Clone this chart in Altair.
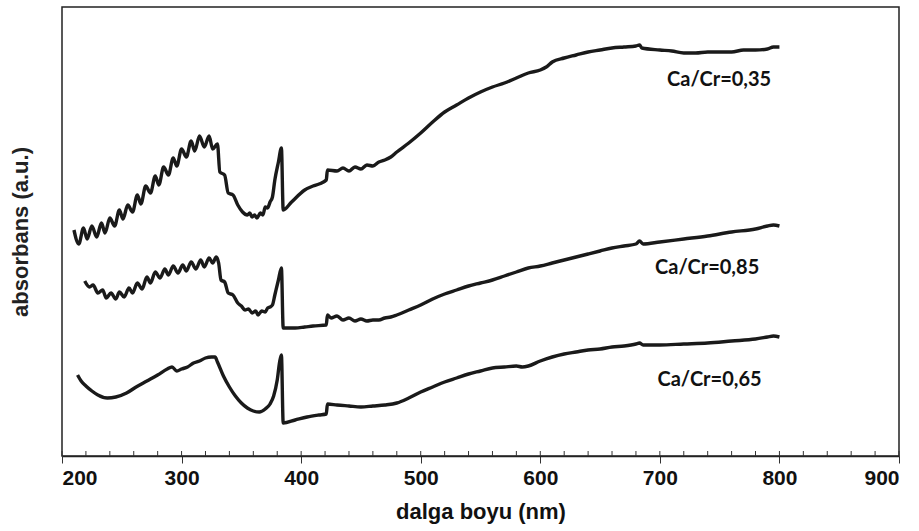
import altair as alt
import pandas as pd

# Ca/Cr = 0,35 (top curve)
x35 = [210, 214, 218, 221, 225, 229, 233, 236, 240, 244, 248, 251, 255, 259, 263, 266, 270, 274, 278, 281,
       285, 289, 293, 296, 300, 304, 308, 311, 315, 319, 323, 326, 330, 332, 336, 339, 343, 347, 351, 355,
       357, 359, 361, 363, 366, 368, 370, 372, 374, 376, 378, 381, 383.5, 385, 392, 403, 410, 415, 421, 422,
       430, 435, 440, 445, 450, 455, 460, 465, 470, 475, 480, 490, 500, 510, 520, 530, 540, 550, 560, 570,
       580, 590, 600, 605, 610, 620, 630, 640, 650, 660, 670, 680, 683, 685, 700, 710, 720, 730, 740, 750,
       760, 770, 780, 790, 795, 800]
y35 = [226, 212, 228, 217, 230, 219, 233, 223, 238, 230, 246, 237, 251, 244, 261, 252, 270, 263, 280, 271,
       289, 281, 298, 290, 307, 299, 315, 305, 320, 309, 320, 307, 312, 284, 281, 263, 261, 251, 244, 241,
       243, 239, 241, 238, 243, 241, 249, 248, 254, 259, 276, 294, 308, 246, 254, 266, 270, 272, 276, 286,
       285, 288, 285, 289, 287, 291, 290, 294, 296, 299, 304, 313, 323, 334, 344, 351, 358, 364, 369, 373,
       378, 383, 386, 389, 394, 398, 401, 404, 406, 408, 409, 410, 411, 408, 406, 405, 403, 403, 404, 404,
       404, 406, 406, 407, 409, 409]

# Ca/Cr = 0,85 (middle curve)
x85 = [219, 223, 226, 230, 234, 237, 241, 245, 248, 252, 256, 259, 263, 267, 271, 274, 278, 282, 286, 289,
       293, 297, 301, 304, 308, 312, 316, 319, 323, 326, 329, 331, 333, 336, 339, 343, 347, 350, 353, 356,
       359, 362, 364, 367, 370, 372, 374, 376, 378, 381, 383.5, 385, 395, 403, 410, 421, 422, 425, 430, 435,
       440, 445, 450, 455, 460, 465, 470, 475, 480, 490, 500, 510, 520, 530, 540, 550, 560, 570, 580, 590,
       600, 610, 620, 630, 640, 650, 660, 670, 680, 683, 686, 700, 720, 740, 760, 780, 790, 795, 800]
y85 = [175, 169, 171, 163, 166, 158, 163, 157, 164, 159, 168, 163, 173, 167, 179, 173, 184, 178, 187, 181,
       190, 183, 191, 185, 194, 187, 196, 189, 198, 193, 199, 193, 176, 174, 163, 161, 153, 150, 146, 147,
       143, 145, 141, 145, 144, 148, 149, 151, 161, 176, 188, 128, 128, 129, 130, 131, 141, 138, 140, 136,
       138, 135, 137, 135, 136, 136, 138, 139, 141, 146, 151, 157, 162, 166, 170, 173, 176, 180, 184, 188,
       190, 193, 196, 199, 202, 205, 208, 210, 212, 215, 212, 214, 217, 220, 224, 227, 230, 231, 230]

# Ca/Cr = 0,65 (bottom curve)
x65 = [213, 216, 220, 225, 230, 238, 245, 254, 262, 271, 280, 288, 292, 296, 300, 305, 310, 315, 320, 325,
       328, 330, 335, 340, 345, 350, 355, 360, 365, 370, 374, 377, 380, 382, 383.5, 385, 395, 405, 415, 421,
       422, 430, 440, 450, 460, 470, 480, 490, 500, 510, 520, 530, 540, 550, 560, 570, 580, 585, 590, 600,
       610, 620, 630, 640, 650, 660, 670, 680, 683, 686, 700, 720, 740, 760, 780, 790, 795, 800]
y65 = [81, 75, 70, 65, 61, 58, 59, 63, 69, 75, 81, 87, 89, 85, 87, 89, 93, 95, 98, 99,
       99, 94, 80, 69, 60, 53, 48, 45, 44, 47, 52, 60, 76, 94, 101, 33, 36, 39, 41, 42,
       52, 51, 50, 49, 50, 51, 53, 58, 64, 69, 74, 78, 82, 85, 88, 89, 90, 89, 90, 95,
       99, 102, 104, 106, 107, 109, 110, 112, 113, 111, 111, 112, 113, 115, 117, 119, 120, 119]

label_text = ["Ca/Cr=0,35", "Ca/Cr=0,85", "Ca/Cr=0,65"]
label_x = [706, 696, 698]
label_y = [376, 188, 76]

x_ticks = [200, 300, 400, 500, 600, 700, 800, 900]
minor_ticks = [220, 240, 260, 280, 320, 340, 360, 380, 420, 440, 460, 480, 520, 540, 560, 580,
               620, 640, 660, 680, 720, 740, 760, 780, 820, 840, 860, 880]

rows = []
for name, xs, ys in [("0,35", x35, y35), ("0,85", x85, y85), ("0,65", x65, y65)]:
    for a, b in zip(xs, ys):
        rows.append({"series": name, "nm": a, "abs": b})
df = pd.DataFrame(rows)
labels = pd.DataFrame({"text": label_text, "nm": label_x, "abs": label_y})
minor = pd.DataFrame({"nm": minor_ticks + x_ticks})

xscale = alt.Scale(domain=[200, 900], nice=False, zero=False)
yscale = alt.Scale(domain=[0, 449], nice=False, zero=False)

lines = alt.Chart(df).mark_line(color="#1a1a1a", strokeWidth=3.4, strokeJoin="round",
                                interpolate="monotone").encode(
    x=alt.X("nm:Q", scale=xscale,
            axis=alt.Axis(values=x_ticks, title="dalga boyu (nm)", format="d",
                          labelFont="Liberation Sans", labelFontSize=21, labelFontWeight="bold",
                          labelColor="#111", tickColor="#333", tickSize=7, tickWidth=1,
                          domainColor="#222", domainWidth=1.5, labelPadding=4,
                          titleFont="Liberation Sans", titleFontSize=22, titleFontWeight="bold",
                          titleColor="#111", titlePadding=13, grid=False)),
    y=alt.Y("abs:Q", scale=yscale,
            axis=alt.Axis(labels=False, ticks=False, grid=False, domain=False,
                          title="absorbans (a.u.)", titleFont="Liberation Sans",
                          titleFontSize=22, titleFontWeight="bold", titleColor="#222",
                          titlePadding=30)),
    detail="series:N",
    order="nm:Q",
)

minor_rules = alt.Chart(minor).mark_rule(color="#333", strokeWidth=1).encode(
    x=alt.X("nm:Q", scale=xscale),
    y=alt.value(449),
    y2=alt.value(444),
)

texts = alt.Chart(labels).mark_text(align="left", baseline="middle", font="Lato",
                                    fontSize=20, fontWeight="bold", color="#111").encode(
    x=alt.X("nm:Q", scale=xscale),
    y=alt.Y("abs:Q", scale=yscale),
    text="text:N",
)

chart = alt.layer(minor_rules, lines, texts).properties(
    width=837, height=449,
    autosize=alt.AutoSizeParams(type="none"),
    padding={"left": 62, "top": 7, "right": 20, "bottom": 75},
    background="white",
).configure_view(stroke="#222", strokeWidth=1.5)

chart.save("out.html", embed_options={"renderer": "svg", "actions": False})
